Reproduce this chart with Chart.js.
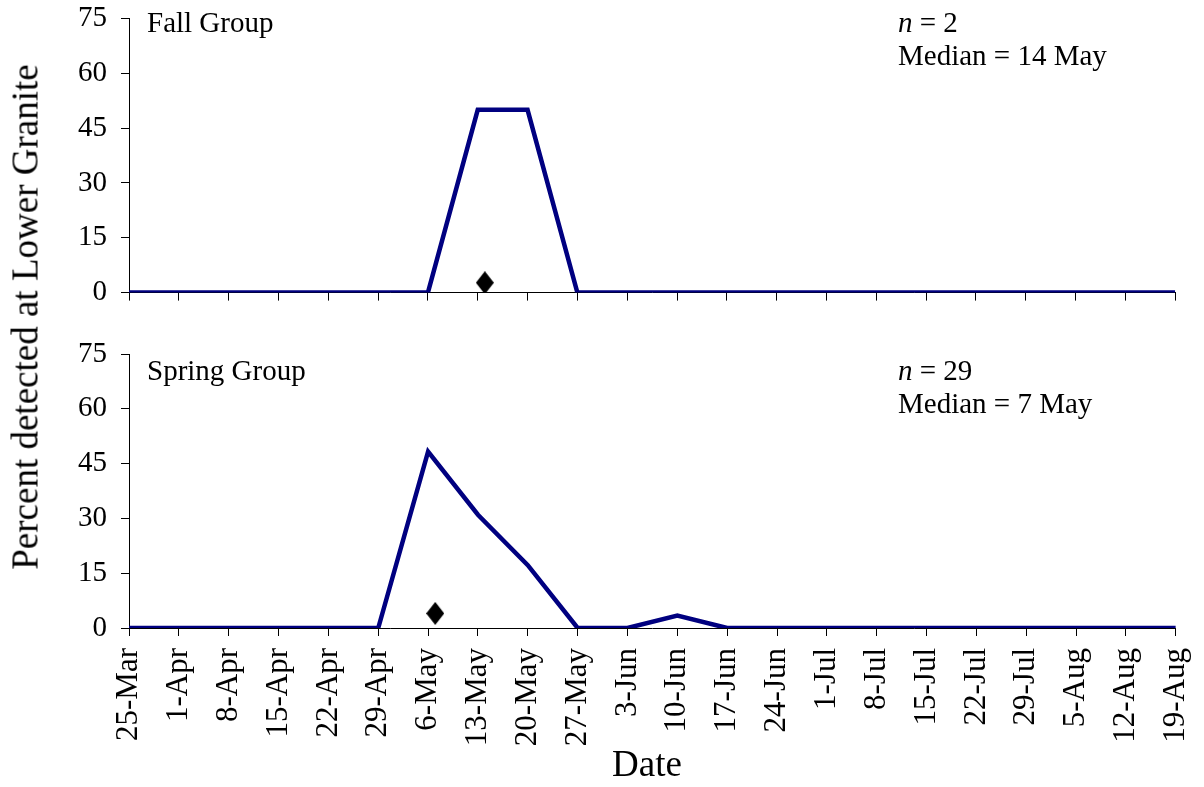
<!DOCTYPE html>
<html>
<head>
<meta charset="utf-8">
<script src="https://cdn.jsdelivr.net/npm/chart.js@4/dist/chart.umd.min.js"></script>
<style>
  html, body { margin: 0; padding: 0; background: #fff; }
  #wrap { position: relative; width: 1204px; height: 787px; overflow: hidden; font-family: 'Liberation Serif', 'Times New Roman', serif; color: #000; }
  canvas { position: absolute; left: 0; }
  .txt { position: absolute; font-size: 29px; line-height: 29px; white-space: nowrap; }
  .title { position: absolute; font-size: 37px; line-height: 37px; white-space: nowrap; }
</style>
</head>
<body>
<div id="wrap">
  <canvas id="fall" width="1222" height="337" style="top:-13px"></canvas>
  <canvas id="spring" width="1225" height="438" style="top:320px"></canvas>

  <div class="txt" style="left:147px; top:8px;">Fall Group</div>
  <div class="txt" style="left:898px; top:8px;"><i>n</i> = 2</div>
  <div class="txt" style="left:898px; top:41px;">Median = 14 May</div>

  <div class="txt" style="left:147px; top:356px;">Spring Group</div>
  <div class="txt" style="left:898px; top:356px;"><i>n</i> = 29</div>
  <div class="txt" style="left:898px; top:389px;">Median = 7 May</div>

  <div class="title" style="left:25px; top:317px; transform: translate(-50%, -50%) rotate(-90deg);">Percent detected at Lower Granite</div>
  <div class="title" style="left:647px; top:763px; transform: translate(-50%, -50%);">Date</div>
</div>

<script>
// Weekly sampling dates (day 0 = 25-Mar, one label every 7 days)
const dateLabels = ['25-Mar', '1-Apr', '8-Apr', '15-Apr', '22-Apr', '29-Apr', '6-May', '13-May',
  '20-May', '27-May', '3-Jun', '10-Jun', '17-Jun', '24-Jun', '1-Jul', '8-Jul', '15-Jul',
  '22-Jul', '29-Jul', '5-Aug', '12-Aug', '19-Aug'];

// Percent of each group detected at Lower Granite per week
const fallPercent   = [0, 0, 0, 0, 0, 0, 0, 50, 50, 0, 0, 0, 0, 0, 0, 0, 0, 0, 0, 0, 0, 0];
const springPercent = [0, 0, 0, 0, 0, 0, 48.3, 31.0, 17.2, 0, 0, 3.4, 0, 0, 0, 0, 0, 0, 0, 0, 0, 0];

// Median passage dates (days after 25-Mar) and marker heights
const fallMedian   = { day: 50, y: 2.7 };   // 14 May
const springMedian = { day: 43, y: 4.0 };   // 7 May

const yTicks = { min: 0, max: 75, step: 15 };
const DAY_STEP = 7;

const FONT = "'Liberation Serif', 'Times New Roman', serif";

// Solid black diamond, a little taller than wide, used as the median marker
function diamondMarker(w, h) {
  const c = document.createElement('canvas');
  c.width = w; c.height = h;
  const g = c.getContext('2d');
  g.fillStyle = '#000';
  g.beginPath();
  g.moveTo(w / 2, 0);
  g.lineTo(w, h / 2);
  g.lineTo(w / 2, h);
  g.lineTo(0, h / 2);
  g.closePath();
  g.fill();
  return c;
}
const marker = diamondMarker(18, 23);

function makePanel(id, values, median, showLabels, padTop, xHeight, xFontSize) {
  const points = values.map((v, i) => ({ x: i * DAY_STEP, y: v }));
  const lastDay = (dateLabels.length - 1) * DAY_STEP;
  return new Chart(document.getElementById(id), {
    type: 'line',
    data: {
      datasets: [
        {
          data: points,
          borderColor: '#000080',
          borderWidth: 4.5,
          pointRadius: 0,
          tension: 0,
          fill: false,
          borderJoinStyle: 'miter'
        },
        {
          type: 'scatter',
          data: [{ x: median.day, y: median.y }],
          pointStyle: marker,
          pointRadius: 10,
          backgroundColor: '#000',
          borderColor: '#000',
          borderWidth: 0,
          showLine: false
        }
      ]
    },
    options: {
      responsive: false,
      animation: false,
      events: [],
      layout: { padding: { top: padTop, right: 29, left: 0, bottom: 0 } },
      plugins: { legend: { display: false }, tooltip: { enabled: false } },
      scales: {
        x: {
          type: 'linear',
          min: 0,
          max: lastDay,
          border: { display: true, color: '#000', width: 1 },
          grid: { drawOnChartArea: false, drawTicks: true, tickLength: 8, color: '#000', lineWidth: 1 },
          ticks: {
            stepSize: DAY_STEP,
            autoSkip: false,
            maxRotation: 90,
            minRotation: 90,
            padding: 12,
            color: '#000',
            font: { family: FONT, size: xFontSize },
            callback: (v) => showLabels ? dateLabels[Math.round(v / DAY_STEP)] : ''
          },
          afterFit: (scale) => { scale.height = xHeight; }
        },
        y: {
          min: yTicks.min,
          max: yTicks.max,
          border: { display: true, color: '#000', width: 1 },
          grid: { drawOnChartArea: false, drawTicks: true, tickLength: 8, color: '#000', lineWidth: 1 },
          ticks: {
            stepSize: yTicks.step,
            padding: 14,
            color: '#000',
            font: { family: FONT, size: 29 }
          },
          afterFit: (scale) => { scale.width = 129; }
        }
      }
    }
  });
}

makePanel('fall', fallPercent, fallMedian, false, 17, 19, 29);
makePanel('spring', springPercent, springMedian, true, 34, 130, 31);
</script>
</body>
</html>
